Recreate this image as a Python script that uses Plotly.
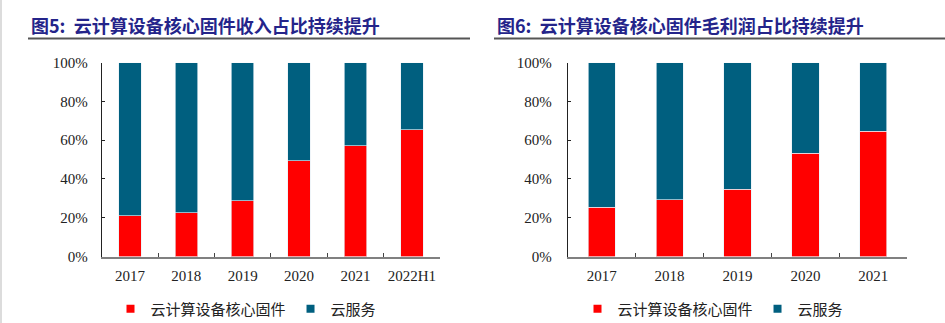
import plotly.graph_objects as go

# Data
cats_left = ["2017", "2018", "2019", "2020", "2021", "2022H1"]
core_left = [0.211, 0.227, 0.287, 0.493, 0.572, 0.655]
cloud_left = [1 - v for v in core_left]

cats_right = ["2017", "2018", "2019", "2020", "2021"]
core_right = [0.253, 0.293, 0.347, 0.534, 0.647]
cloud_right = [1 - v for v in core_right]

title_left = "图5:  云计算设备核心固件收入占比持续提升"
title_right = "图6:  云计算设备核心固件毛利润占比持续提升"
name_core = "云计算设备核心固件"
name_cloud = "云服务"

RED = "#FF0000"
BLUE = "#005F7F"
W, H = 945, 323
SERIF = "Liberation Serif, Times New Roman, serif"
CJK = "Noto Sans CJK SC, sans-serif"

fig = go.Figure()

edge = dict(color="rgba(230,240,245,0.8)", width=0.8)
for cats, core, cloud, xa, ya, lg in [
    (cats_left, core_left, cloud_left, "x", "y", "legend"),
    (cats_right, core_right, cloud_right, "x2", "y2", "legend2"),
]:
    fig.add_trace(go.Bar(x=cats, y=core, marker=dict(color=RED, line=edge),
                         width=0.4, xaxis=xa, yaxis=ya, showlegend=False))
    fig.add_trace(go.Bar(x=cats, y=cloud, marker=dict(color=BLUE, line=edge),
                         width=0.4, xaxis=xa, yaxis=ya, showlegend=False))
    for nm, col in [(name_core, RED), (name_cloud, BLUE)]:
        fig.add_trace(go.Scatter(x=[None], y=[None], mode="markers", name=nm,
                                 marker=dict(symbol="square", size=8, color=col),
                                 xaxis=xa, yaxis=ya, legend=lg, showlegend=True))

ydom = [1 - 256.5 / H, 1 - 62.7 / H]
xdom_l = [101.7 / W, 440 / W]
xdom_r = [567.7 / W, 907.3 / W]

xaxis_common = dict(type="category", showline=True, linecolor="#808080", linewidth=1.5,
                    ticks="inside", tickson="boundaries", ticklen=4, tickcolor="#444",
                    tickfont=dict(family=SERIF, size=15, color="#222"),
                    ticklabelstandoff=5,
                    showgrid=False, zeroline=False, fixedrange=True, automargin=False)
yaxis_common = dict(range=[0, 1], dtick=0.2, tickformat=".0%", showline=True,
                    linecolor="#222", linewidth=1, ticks="inside", ticklen=3,
                    tickcolor="#222", showgrid=False, zeroline=False,
                    tickfont=dict(family=SERIF, size=15, color="#222"),
                    domain=ydom, automargin=False)

leg_common = dict(orientation="h", xanchor="center", y=1 - 309 / H,
                  yanchor="middle", font=dict(family=CJK, size=15, color="#222"),
                  bgcolor="rgba(0,0,0,0)", traceorder="normal", itemwidth=30)

fig.update_layout(
    width=W, height=H, margin=dict(l=0, r=0, t=0, b=0, autoexpand=False),
    paper_bgcolor="white", plot_bgcolor="white", barmode="stack",
    xaxis=dict(**xaxis_common, domain=xdom_l, anchor="y"),
    yaxis=dict(**yaxis_common, anchor="x", ticklabelstandoff=10),
    xaxis2=dict(**xaxis_common, domain=xdom_r, anchor="y2"),
    yaxis2=dict(**yaxis_common, anchor="x2", ticklabelstandoff=12),
    legend=dict(**leg_common, x=246 / W),
    legend2=dict(**leg_common, x=713 / W),
    showlegend=True,
)

# Titles
for txt, x0 in [(title_left, 29), (title_right, 495)]:
    fig.add_annotation(text="<b>" + txt + "</b>", xref="paper", yref="paper",
                       x=x0 / W, y=1 - 25 / H, xanchor="left", yanchor="middle",
                       showarrow=False,
                       font=dict(family=CJK, size=18, color="#24248A"))

# Title underlines and left page edge
fig.add_shape(type="line", xref="paper", yref="paper", x0=28 / W, x1=470 / W,
              y0=1 - 38.5 / H, y1=1 - 38.5 / H, line=dict(color="#555", width=2))
fig.add_shape(type="line", xref="paper", yref="paper", x0=494 / W, x1=1,
              y0=1 - 38.5 / H, y1=1 - 38.5 / H, line=dict(color="#555", width=2))
fig.add_shape(type="line", xref="paper", yref="paper", x0=1 / W, x1=1 / W,
              y0=0, y1=1, line=dict(color="#d0d0d0", width=1.5))

fig.write_html("out.html")
